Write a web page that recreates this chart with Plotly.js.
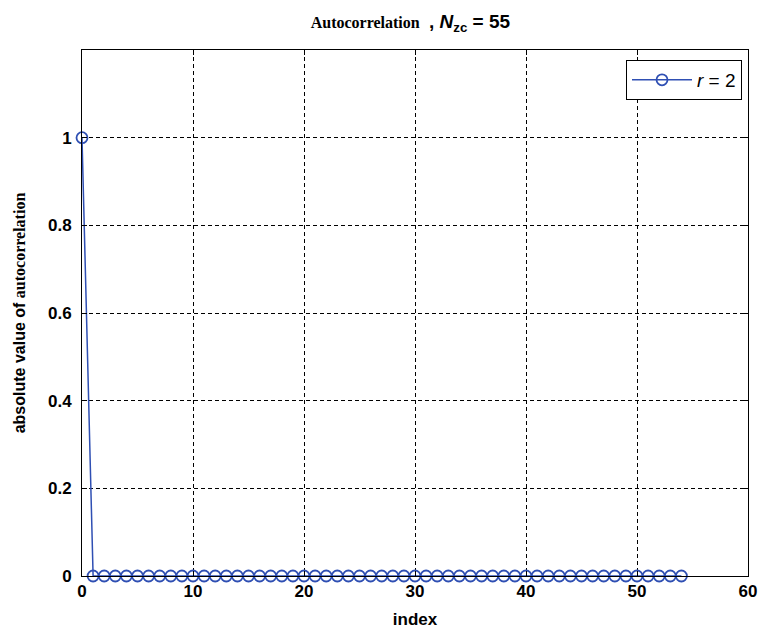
<!DOCTYPE html>
<html>
<head>
<meta charset="utf-8">
<script src="https://cdn.plot.ly/plotly-3.0.1.min.js"></script>
<style>html,body{margin:0;padding:0;background:#fff;}</style>
</head>
<body>
<div id="chart" style="width:760px;height:630px;"></div>
<script>
const indexValues = Array.from({length: 55}, (_, i) => i);
const autocorrValues = [1].concat(new Array(54).fill(0));
const seriesName = '<i>r</i> = 2';
const xTicks = [0, 10, 20, 30, 40, 50, 60];
const yTicks = [0, 0.2, 0.4, 0.6, 0.8, 1];
const yTickLabels = ['0', '0.2', '0.4', '0.6', '0.8', '1'];

const blue = '#2f4fb3';
const trace = {
  x: indexValues,
  y: autocorrValues,
  type: 'scatter',
  mode: 'lines+markers',
  name: seriesName,
  line: {color: blue, width: 1.5},
  marker: {symbol: 'circle-open', size: 11, color: blue, line: {width: 1.8, color: blue}},
  cliponaxis: false
};

const tickFont = {family: 'Liberation Sans Narrow, Arial, sans-serif', size: 17, color: '#000', weight: 'bold'};

const layout = {
  width: 760, height: 630,
  margin: {l: 82, r: 12, t: 50, b: 54},
  paper_bgcolor: '#fff', plot_bgcolor: '#fff',
  showlegend: true,
  title: {
    text: '<b><span style="font-family:Liberation Serif,Times New Roman,serif;font-size:16px">Autocorrelation</span> <span style="font-family:Liberation Sans Narrow,Arial,sans-serif;font-size:19px"> , <i>N</i><sub>zc</sub> = 55</span></b>',
    x: 0.54, xanchor: 'center', y: 0.965, yanchor: 'middle',
    font: {family: 'Liberation Serif, serif', size: 16, color: '#000'}
  },
  xaxis: {
    range: [0, 60], tickvals: xTicks, ticktext: xTicks.map(String),
    showgrid: true, gridcolor: '#000', griddash: '4px,3px', gridwidth: 1,
    zeroline: false, showline: true, linecolor: '#000', linewidth: 1, mirror: 'ticks',
    ticks: 'inside', ticklen: 5, tickcolor: '#000',
    tickfont: tickFont,
    title: {text: '<b>index</b>', font: {family: 'Liberation Sans Narrow, Arial, sans-serif', size: 17, color: '#000'}, standoff: 12}
  },
  yaxis: {
    range: [0, 1.2], tickvals: yTicks, ticktext: yTickLabels,
    showgrid: true, gridcolor: '#000', griddash: '4px,3px', gridwidth: 1,
    zeroline: false, showline: true, linecolor: '#000', linewidth: 1, mirror: 'ticks',
    ticks: 'inside', ticklen: 5, tickcolor: '#000', ticklabelstandoff: 6,
    tickfont: tickFont,
    title: {text: '<b><span style="font-family:Liberation Sans Narrow,Arial,sans-serif">absolute value of</span> <span style="font-family:Liberation Serif,Times New Roman,serif">autocorrelation</span></b>', font: {family: 'Liberation Sans Narrow, Arial, sans-serif', size: 16, color: '#000'}, standoff: 18}
  },
  legend: {
    x: 0.991, xanchor: 'right', y: 0.981, yanchor: 'top',
    bgcolor: '#fff', bordercolor: '#000', borderwidth: 1,
    itemwidth: 60,
    font: {family: 'Liberation Sans, Arial, sans-serif', size: 19, color: '#000'}
  }
};

Plotly.newPlot('chart', [trace], layout, {displayModeBar: false, staticPlot: true});
</script>
</body>
</html>
